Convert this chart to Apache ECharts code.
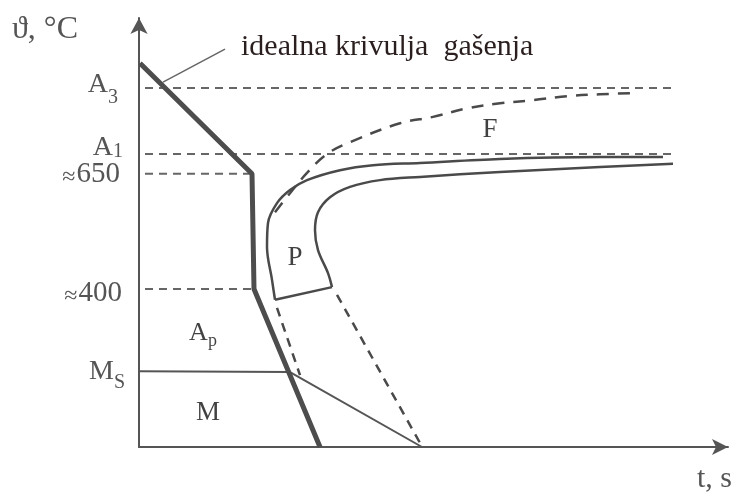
<!DOCTYPE html>
<html>
<head>
<meta charset="utf-8">
<script src="https://cdn.jsdelivr.net/npm/echarts@6/dist/echarts.min.js"></script>
<style>
  html, body { margin: 0; background: #fff; }
  #chart { width: 735px; height: 493px; }
</style>
</head>
<body>
<div id="chart"></div>
<script>
// schematic CCT diagram, x = time (arbitrary units), y = temperature in °C (approx.)
const yTickValues = [845, 699, 655, 400, 218];
const yTickLabels = ['A3', 'A1', '≈650', '≈400', 'MS'];

const idealQuench = [[1, 900], [113, 655], [115, 400], [181, 50]];
const pointer = [[24, 858], [86, 931]];
const msLine = [[0, 218], [151, 216], [283, 50]];

const a3Line = [[6, 845], [534, 845]];
const a1Line = [[6, 699], [534, 699]];
const line650 = [[6, 655], [112, 655]];
const line400 = [[6, 400], [114, 400]];

const pearliteStart = [[136, 376], [133, 420], [128, 493], [129, 546], [138, 590], [151, 619],
  [168, 641], [201, 663], [234, 674], [281, 679], [361, 688], [461, 692], [524, 692]];
const pearliteEnd = [[193, 404], [189, 435], [179, 486], [176, 530], [179, 570], [191, 603],
  [211, 626], [241, 641], [281, 648], [361, 659], [461, 670], [534, 677]];
const pearliteBottom = [[136, 376], [193, 404]];
const ferriteStart = [[136, 570], [151, 612], [168, 657], [188, 699], [211, 725], [261, 767],
  [294, 781], [328, 800], [361, 811], [394, 818], [428, 827], [461, 831], [498, 834]];
const startToMs = [[138, 358], [161, 209]];
const endToAxis = [[198, 387], [281, 59]];

const areaNames = ['Ap', 'M', 'P', 'F'];
const areaPos = [[64, 302], [69, 125], [156, 468], [351, 752]];

const FONT = 'Liberation Serif';
const GRAY = '#555';
const INK = '#4a4a4a';

// tick label layout: [top pad of main glyph, top pad of second part, line box height, right pad]
const tickLayout = [
  [7, 24, 48, 7],
  [8, 16, 56, 2],
  [10, 4, 36, 5],
  [17, 11, 42, 3],
  [10, 25, 46, 0]
];

const rich = {};
yTickLabels.forEach((lab, i) => {
  const approx = lab[0] === '≈';
  const [pb, ps, h, pr] = tickLayout[i];
  rich['v' + i] = { fontSize: 1, lineHeight: h, verticalAlign: 'top' };
  rich['b' + i] = {
    fontFamily: FONT, color: GRAY, verticalAlign: 'top',
    fontSize: approx ? 24 : 28, lineHeight: approx ? 24 : 28, padding: [pb, approx ? 1 : 0, 0, 0]
  };
  rich['s' + i] = {
    fontFamily: FONT, color: GRAY, verticalAlign: 'top',
    fontSize: approx ? 29 : 20, lineHeight: approx ? 28 : 20, padding: [ps, pr, 0, 0]
  };
});

function tickText(value) {
  const i = yTickValues.indexOf(value);
  if (i < 0) return '';
  const lab = yTickLabels[i];
  return '{v' + i + '|\u00a0}{b' + i + '|' + lab[0] + '}{s' + i + '|' + lab.slice(1) + '}';
}

function line(data, width, type, color) {
  return {
    type: 'line', data, showSymbol: false, silent: true, animation: false,
    lineStyle: { width, type: type || 'solid', color: color || INK }
  };
}
function smooth(data, width, type) {
  const s = line(data, width, type);
  s.smooth = 0.35;
  return s;
}

const chart = echarts.init(document.getElementById('chart'));
chart.setOption({
  animation: false,
  grid: { left: 139, right: 7, top: 18, bottom: 46 },
  xAxis: {
    type: 'value', min: 0, max: 589,
    axisLine: { lineStyle: { color: GRAY, width: 2 }, symbol: ['none', 'arrow'], symbolSize: [12, 16] },
    axisTick: { show: false }, axisLabel: { show: false }, splitLine: { show: false }
  },
  yAxis: {
    type: 'value', min: 50, max: 1000,
    axisLine: { lineStyle: { color: GRAY, width: 2 }, symbol: ['none', 'arrow'], symbolSize: [13, 16] },
    axisTick: { show: false },
    splitLine: { show: false },
    axisLabel: {
      customValues: yTickValues, margin: 14,
      formatter: tickText, rich
    }
  },
  graphic: [
    { type: 'text', x: 12, y: 30, style: { text: 'ϑ, °C', font: '32px "' + FONT + '"', fill: GRAY, verticalAlign: 'middle' } },
    { type: 'text', x: 697, y: 479, style: { text: 't, s', font: '30px "' + FONT + '"', fill: GRAY, verticalAlign: 'middle' } },
    { type: 'text', x: 241, y: 47, style: { text: 'idealna krivulja  gašenja', font: '30px "' + FONT + '"', fill: '#2a1e1e', verticalAlign: 'middle' } }
  ],
  series: [
    line(a3Line, 2, [8, 6], '#666'),
    line(a1Line, 2, [8, 6], '#666'),
    line(line650, 2, [8, 6], '#666'),
    line(line400, 2, [8, 6], '#666'),
    smooth(ferriteStart, 2.5, [12, 9]),
    smooth(pearliteStart, 2.5),
    smooth(pearliteEnd, 2.5),
    line(pearliteBottom, 2.5),
    line(startToMs, 2.5, [9, 7]),
    line(endToAxis, 2.5, [9, 7]),
    line(msLine, 2, 'solid', '#555'),
    line(pointer, 1.5, 'solid', '#666'),
    line(idealQuench, 5, 'solid', '#4d4d4d'),
    {
      type: 'scatter', silent: true, symbolSize: 0,
      data: areaPos.map((p, i) => ({ value: p, name: areaNames[i] })),
      label: {
        show: true, position: 'inside', color: '#111', fontFamily: FONT, fontSize: 27,
        formatter: p => p.name === 'Ap' ? '{a|A}{p|p}' : p.name,
        rich: {
          a: { fontFamily: FONT, fontSize: 26, color: '#111', lineHeight: 26, verticalAlign: 'top' },
          p: { fontFamily: FONT, fontSize: 18, color: '#111', lineHeight: 18, verticalAlign: 'top', padding: [12, 0, 0, 0] }
        }
      }
    }
  ]
});
</script>
</body>
</html>
